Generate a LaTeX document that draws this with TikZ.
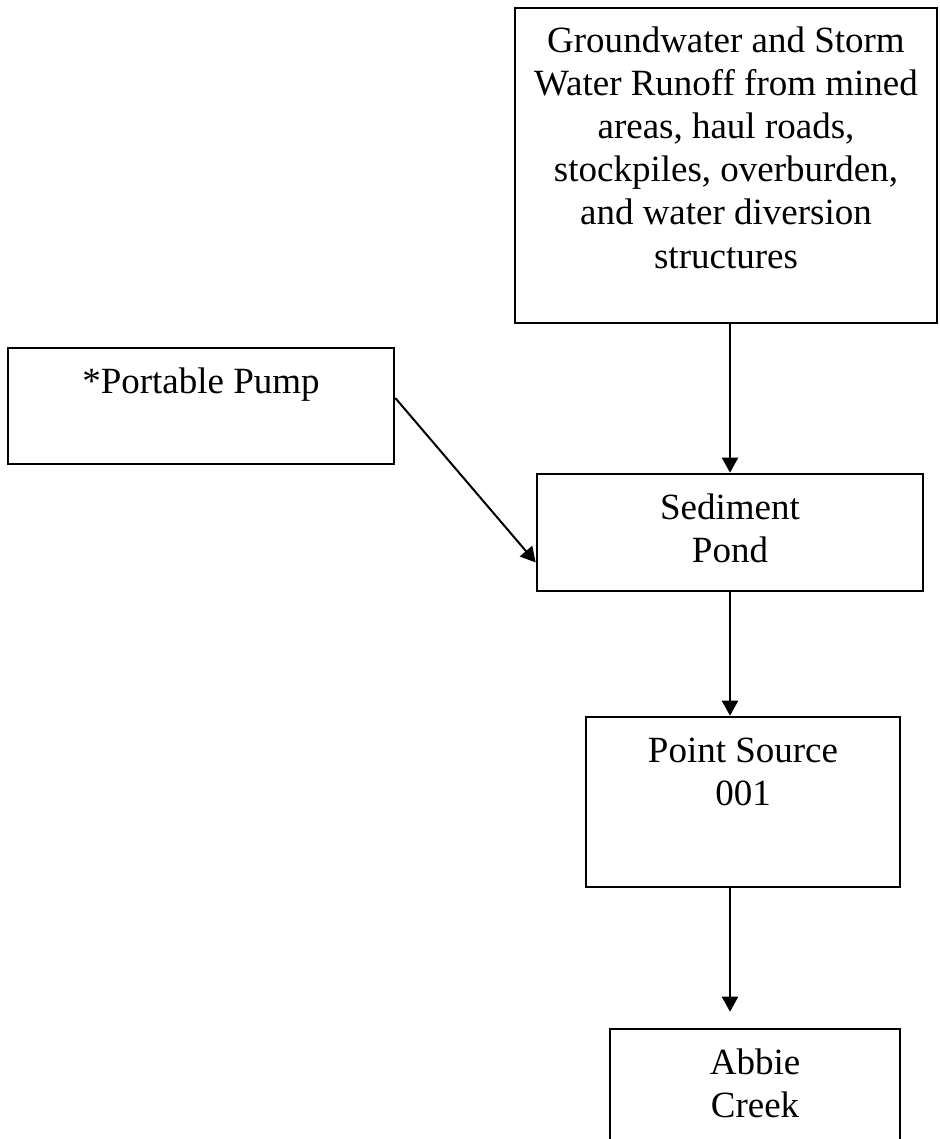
\documentclass[tikz,border=0pt]{standalone}
\usepackage{fontspec}
\setmainfont{Liberation Serif}
\usepackage{tikz}
\usetikzlibrary{arrows.meta, calc}
\newcommand{\flowfont}{\fontsize{18.5}{21.5}\selectfont}
% box text: width, height, lines (top aligned)
\newcommand{\boxtext}[3]{\parbox[c][#2][t]{#1}{\centering\rule{0pt}{22.5pt}#3}}
\tikzset{
    flowbox/.style={rectangle, draw=black, line width=1.3pt, inner sep=0pt, font=\flowfont},
    flowarrow/.style={-{Triangle[length=7.5pt, width=8pt]}, line width=1pt, black}
}

\begin{document}
\begin{tikzpicture}[x=0.5pt, y=-0.5pt]

\clip (0,0) rectangle (940,1139);

\node[flowbox] (gw) at (726,165.5) {\boxtext{211pt}{157.5pt}{Groundwater and Storm\\Water Runoff from mined\\areas, haul roads,\\stockpiles, overburden,\\and water diversion\\structures}};
\node[flowbox] (pump) at (201,406) {\boxtext{193pt}{58pt}{*Portable Pump}};
\node[flowbox] (pond) at (730,532.5) {\boxtext{193pt}{58.5pt}{Sediment\\Pond}};
\node[flowbox] (ps) at (743,802) {\boxtext{157pt}{85pt}{Point Source\\001}};
\node[flowbox] (creek) at (755,1109) {\boxtext{145pt}{80pt}{Abbie\\Creek}};

\draw[flowarrow] (gw.south -| pond.north) -- (pond.north);
\draw[flowarrow] ([yshift=4pt]pump.east) -- ([yshift=-15pt]pond.west);
\draw[flowarrow] (pond.south) -- (pond.south |- ps.north);
\draw[flowarrow, shorten >=8pt] (ps.south -| pond.south) -- (pond.south |- creek.north);

\end{tikzpicture}
\end{document}
